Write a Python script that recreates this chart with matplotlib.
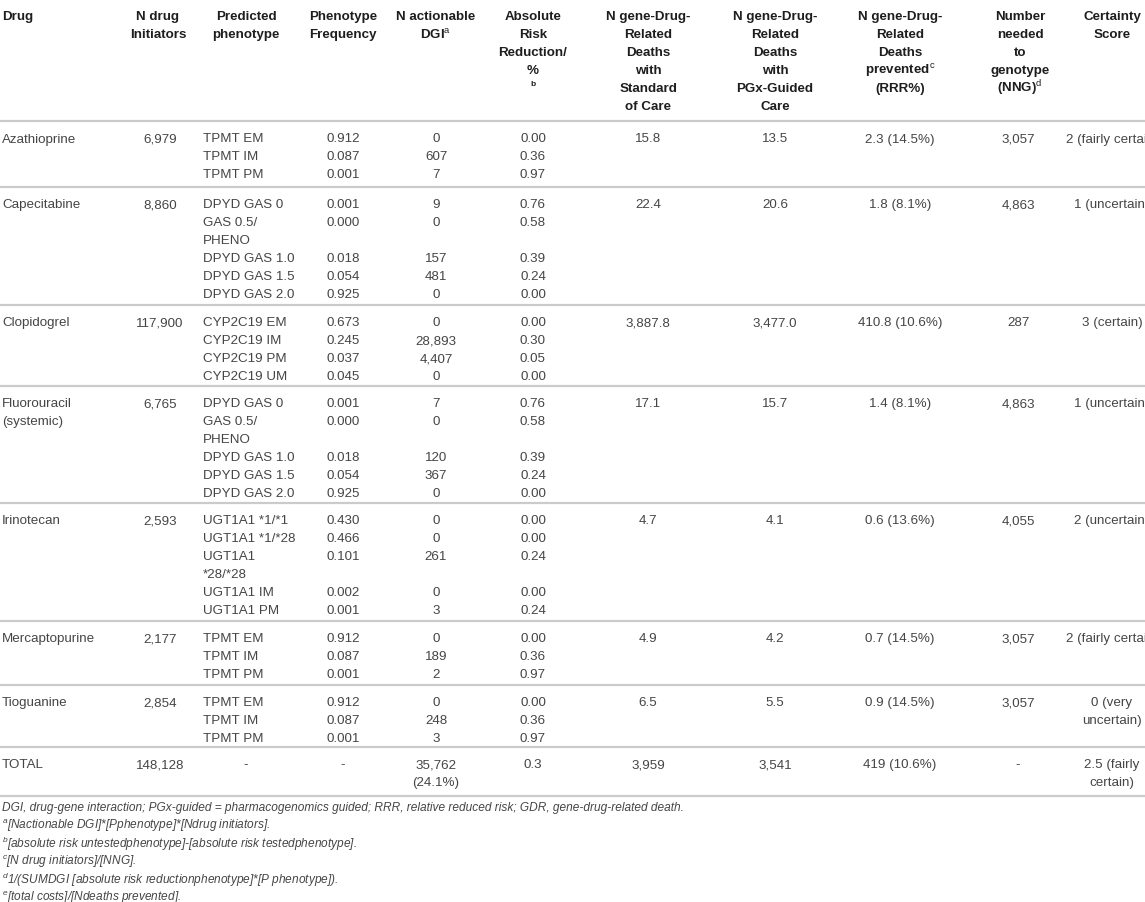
import matplotlib
matplotlib.use("Agg")
import matplotlib.pyplot as plt

plt.rcParams['font.family'] = ['Liberation Sans', 'DejaVu Sans']
plt.rcParams['mathtext.fontset'] = 'custom'
plt.rcParams['mathtext.rm'] = 'Liberation Sans'
plt.rcParams['mathtext.it'] = 'Liberation Sans:italic'
plt.rcParams['mathtext.bf'] = 'Liberation Sans:bold'

# ---- datos de la tabla ----
encabezados = [
    ["Drug"],
    ["N drug", "Initiators"],
    ["Predicted", "phenotype"],
    ["Phenotype", "Frequency"],
    ["N actionable", r"DGI$^{\mathrm{a}}$"],
    ["Absolute", "Risk", "Reduction/", "%"],
    ["N gene-Drug-", "Related", "Deaths", "with", "Standard", "of Care"],
    ["N gene-Drug-", "Related", "Deaths", "with", "PGx-Guided", "Care"],
    ["N gene-Drug-", "Related", "Deaths", r"prevented$^{\mathrm{c}}$", "(RRR%)"],
    ["Number", "needed", "to", "genotype", r"(NNG)$^{\mathrm{d}}$"],
    ["Certainty", "Score"],
]

farmacos = ["Azathioprine", "Capecitabine", "Clopidogrel", "Fluorouracil\n(systemic)",
            "Irinotecan", "Mercaptopurine", "Tioguanine", "TOTAL"]
iniciadores = ["6,979", "8,860", "117,900", "6,765", "2,593", "2,177", "2,854", "148,128"]

fenotipos = [
    ["TPMT EM", "TPMT IM", "TPMT PM"],
    ["DPYD GAS 0", "GAS 0.5/\nPHENO", "DPYD GAS 1.0", "DPYD GAS 1.5", "DPYD GAS 2.0"],
    ["CYP2C19 EM", "CYP2C19 IM", "CYP2C19 PM", "CYP2C19 UM"],
    ["DPYD GAS 0", "GAS 0.5/\nPHENO", "DPYD GAS 1.0", "DPYD GAS 1.5", "DPYD GAS 2.0"],
    ["UGT1A1 *1/*1", "UGT1A1 *1/*28", "UGT1A1\n*28/*28", "UGT1A1 IM", "UGT1A1 PM"],
    ["TPMT EM", "TPMT IM", "TPMT PM"],
    ["TPMT EM", "TPMT IM", "TPMT PM"],
    ["-"],
]
frecuencias = [
    ["0.912", "0.087", "0.001"],
    ["0.001", "0.000", "0.018", "0.054", "0.925"],
    ["0.673", "0.245", "0.037", "0.045"],
    ["0.001", "0.000", "0.018", "0.054", "0.925"],
    ["0.430", "0.466", "0.101", "0.002", "0.001"],
    ["0.912", "0.087", "0.001"],
    ["0.912", "0.087", "0.001"],
    ["-"],
]
n_dgi = [
    ["0", "607", "7"],
    ["9", "0", "157", "481", "0"],
    ["0", "28,893", "4,407", "0"],
    ["7", "0", "120", "367", "0"],
    ["0", "0", "261", "0", "3"],
    ["0", "189", "2"],
    ["0", "248", "3"],
    ["35,762\n(24.1%)"],
]
arr = [
    ["0.00", "0.36", "0.97"],
    ["0.76", "0.58", "0.39", "0.24", "0.00"],
    ["0.00", "0.30", "0.05", "0.00"],
    ["0.76", "0.58", "0.39", "0.24", "0.00"],
    ["0.00", "0.00", "0.24", "0.00", "0.24"],
    ["0.00", "0.36", "0.97"],
    ["0.00", "0.36", "0.97"],
    ["0.3"],
]
muertes_std = ["15.8", "22.4", "3,887.8", "17.1", "4.7", "4.9", "6.5", "3,959"]
muertes_pgx = ["13.5", "20.6", "3,477.0", "15.7", "4.1", "4.2", "5.5", "3,541"]
prevenidas = ["2.3 (14.5%)", "1.8 (8.1%)", "410.8 (10.6%)", "1.4 (8.1%)", "0.6 (13.6%)",
              "0.7 (14.5%)", "0.9 (14.5%)", "419 (10.6%)"]
nng = ["3,057", "4,863", "287", "4,863", "4,055", "3,057", "3,057", "-"]
certeza = ["2 (fairly certain)", "1 (uncertain)", "3 (certain)", "1 (uncertain)",
           "2 (uncertain)", "2 (fairly certain)", "0 (very\nuncertain)", "2.5 (fairly\ncertain)"]

notas = [
    "DGI, drug-gene interaction; PGx-guided = pharmacogenomics guided; RRR, relative reduced risk; GDR, gene-drug-related death.",
    r"$^{a}$[Nactionable DGI]*[Pphenotype]*[Ndrug initiators].",
    r"$^{b}$[absolute risk untestedphenotype]-[absolute risk testedphenotype].",
    r"$^{c}$[N drug initiators]/[NNG].",
    r"$^{d}$1/(SUMDGI [absolute risk reductionphenotype]*[P phenotype]).",
    r"$^{e}$[total costs]/[Ndeaths prevented].",
]

# ---- layout (pixeles) ----
W, H = 1145, 903
col_x = [2, 160, 203, 343, 436, 533, 648, 775, 900, 1018, 1112]
head_x = [2, 158, 246, 343, 436, 533, 648, 775, 900, 1020, 1112]
lineas = [122, 188, 306, 387, 504, 622, 686, 748, 797]
lh = 18.0
lh_head = 17.9
fs = 9.6
color_txt = '#454545'
color_head = '#1e1e1e'
color_linea = '#cbcbcb'

fig = plt.figure(figsize=(W / 100, H / 100), dpi=100)
ax = fig.add_axes([0, 0, 1, 1])
ax.set_xlim(0, W)
ax.set_ylim(H, 0)
ax.axis('off')

# encabezado
for j, lab in enumerate(encabezados):
    ha = 'left' if j == 0 else 'center'
    for i, t in enumerate(lab):
        ax.text(head_x[j], 17 + i * lh_head, t, ha=ha, va='center', fontsize=fs,
                fontweight='bold', color=color_head)
ax.text(head_x[5], 85, "b", ha='center', va='center', fontsize=6,
        fontweight='bold', color=color_head)

for y in lineas:
    ax.axhline(y, color=color_linea, lw=1.6)


def escribir(x, y, s, ha):
    partes = s.split("\n")
    for k, p in enumerate(partes):
        ax.text(x, y + k * lh, p, ha=ha, va='center', fontsize=fs, color=color_txt)
    return len(partes)


for r in range(len(farmacos)):
    y0 = lineas[r] + 17.5
    escribir(col_x[0], y0, farmacos[r], 'left')
    escribir(col_x[1], y0, iniciadores[r], 'center')
    yy = y0
    for k in range(len(fenotipos[r])):
        if fenotipos[r][k] == "-":
            n = escribir(head_x[2], yy, fenotipos[r][k], 'center')
        else:
            n = escribir(col_x[2], yy, fenotipos[r][k], 'left')
        escribir(col_x[3], yy, frecuencias[r][k], 'center')
        escribir(col_x[4], yy, n_dgi[r][k], 'center')
        escribir(col_x[5], yy, arr[r][k], 'center')
        yy += n * lh
    escribir(col_x[6], y0, muertes_std[r], 'center')
    escribir(col_x[7], y0, muertes_pgx[r], 'center')
    escribir(col_x[8], y0, prevenidas[r], 'center')
    escribir(col_x[9], y0, nng[r], 'center')
    escribir(col_x[10], y0, certeza[r], 'center')

for i, t in enumerate(notas):
    ax.text(2, 808 + i * 18, t, ha='left', va='center', fontsize=8.6,
            fontstyle='italic', color=color_txt)

fig.savefig("out.png", dpi=100)
